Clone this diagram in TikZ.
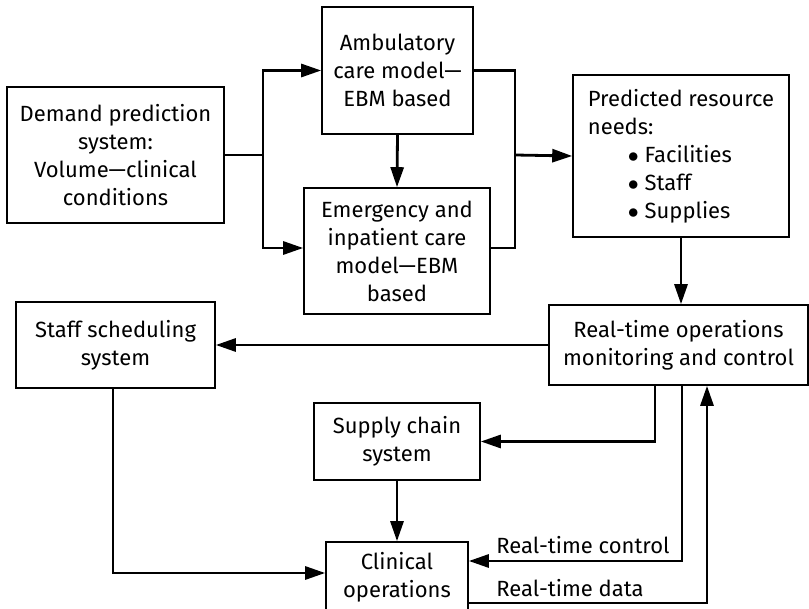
\documentclass[tikz,border=0pt]{standalone}
\usepackage{fontspec}
\setmainfont{Fira Sans}
\usepackage{tikz}
\usetikzlibrary{positioning,arrows.meta,calc}
\newcommand{\itm}{\hspace{20pt}$\bullet$\ }

\begin{document}
\begin{tikzpicture}[x=0.5pt,y=-0.5pt,
      box/.style={draw,line width=0.8pt,align=center,inner sep=2pt,
        font=\fontsize{11}{14}\selectfont},
      link/.style={line width=1.4pt},
      arr/.style={link,-{Triangle[length=10pt,width=6.5pt]}},
      lbl/.style={anchor=west,inner sep=0pt,font=\fontsize{11}{14}\selectfont},
    ]
      \useasboundingbox (0,0) rectangle (809,609);
      % Planning boxes
      \node[box,minimum width=108.5pt,minimum height=68pt] (demand) at (115.5,155)
        {Demand prediction\\system:\\Volume---clinical\\conditions};
      \node[box,minimum width=75.5pt,minimum height=63.5pt] (amb) at (397.5,70.5)
        {Ambulatory\\care model---\\EBM based};
      \node[box,minimum width=93pt,minimum height=63pt] (emerg) at (397,251)
        {Emergency and\\inpatient care\\model---EBM\\based};
      \node[box,align=left,minimum width=108pt,minimum height=81pt] (pred) at (681,156)
        {Predicted resource\\needs:\\\itm Facilities\\\itm Staff\\\itm Supplies};

      % Operations boxes
      \node[box,minimum width=129.5pt,minimum height=40pt] (rtops) at (678.5,345)
        {Real-time operations\\monitoring and control};
      \node[box,minimum width=99.5pt,minimum height=43pt] (staff) at (115.5,345)
        {Staff scheduling\\system};
      \node[box,minimum width=83pt,minimum height=38.5pt] (supply) at (397,441.5)
        {Supply chain\\system};
      \node[box,minimum width=71pt,minimum height=35pt] (clin) at (397,577)
        {Clinical\\operations};

      % Split and join
      \coordinate (dsplit) at (263,155);
      \coordinate (mjoin) at (515,155);
      \draw[link] (demand.east) -- (dsplit);
      \draw[arr] (dsplit) |- (amb.west);
      \draw[arr] (dsplit) |- ($(emerg.west)+(0,-3)$);
      \draw[arr] (amb.south) -- (emerg.north);
      \draw[link] (amb.east) -| (mjoin);
      \draw[link] ($(emerg.east)+(0,-3)$) -| (mjoin);
      \draw[arr] (mjoin) -- (pred.west);
      \draw[arr] (pred.south) -- (pred.south |- rtops.north);

      % Control loop
      \draw[arr] (rtops.west) -- (staff.east);
      \draw[arr] ($(rtops.south)+(-23.5,0)$) |- (supply.east);
      \draw[arr] (supply.south) -- (clin.north);
      \draw[arr] ($(staff.south)+(-2.5,0)$) |- ($(clin.west)+(0,-4)$);
      \draw[arr] ($(rtops.south)+(3.5,0)$) |- ($(clin.east)+(0,-16)$);
      \draw[arr] ($(clin.east)+(0,26)$) -| ($(rtops.south)+(28.5,0)$);
      \node[lbl] (ctrl) at (496,545) {Real-time control};
      \node[lbl] (data) at (496,588) {Real-time data};
    \end{tikzpicture}
\end{document}
